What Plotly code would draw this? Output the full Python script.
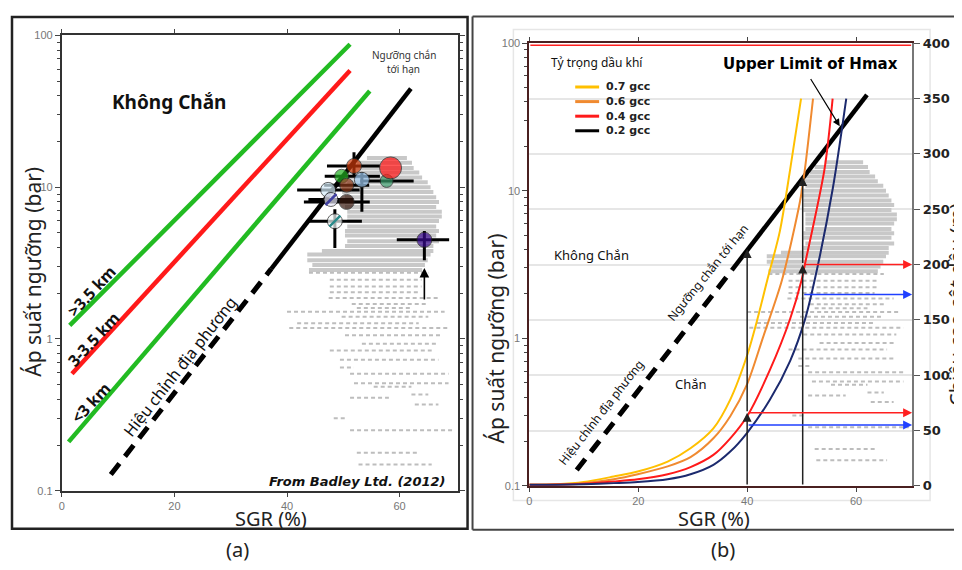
import numpy as np
import plotly.graph_objects as go

# page is 962x570; the browser body keeps its default 8px margin,
# so the figure itself is 946x554 and sits at (8, 8)
PAGE_W, PAGE_H, OFF = 962, 570, 8
W, H = PAGE_W - 2 * OFF, PAGE_H - 2 * OFF
def px(x): return (x - OFF) / W
def py(y): return 1 - (y - OFF) / H

# ---------------- data ----------------
sgr_ticks = [0, 20, 40, 60]
bar_ticks = [0.1, 1, 10, 100]
bar_tick_text = ["0.1", "1", "10", "100"]
bar_minor = [m * d for d in (0.1, 1, 10) for m in range(2, 10)]
h_ticks = [0, 50, 100, 150, 200, 250, 300, 350, 400]

# panel (a) depth trend lines (start, end)
g35_x = [1.4, 51.2];  g35_y = [1.23, 87.5]    # >3.5 km
r335_x = [1.8, 51.2]; r335_y = [0.59, 58.8]   # 3-3.5 km
g3_x = [1.2, 54.7];   g3_y = [0.21, 43.1]     # <3 km

# critical seal threshold (local calibration dashed, critical solid)
thr_dash_x = [8.7, 37.2];  thr_dash_y = [0.128, 2.9]
thr_solid_x = [37.2, 62.0]; thr_solid_y = [2.9, 44.6]

# panel (a) calibration points
pt_x = [51.9, 49.7, 50.6, 53.3, 57.7, 47.3, 47.8, 50.6, 48.5, 64.4, 58.4]
pt_y = [13.8, 11.8, 10.3, 11.2, 11.0, 9.6, 8.3, 8.0, 5.97, 4.5, 13.4]
pt_xm = [4.8, 3.0, 4.0, 0, 4.7, 5.5, 4.0, 7.6, 4.6, 4.9, 0]
pt_xp = [4.6, 6.8, 4.0, 0, 4.8, 5.6, 4.0, 4.1, 4.8, 4.4, 0]
pt_ym = [1.8, 0, 0, 4.3, 0, 0, 0, 0, 2.0, 1.2, 0]
pt_yp = [3.2, 0, 0, 1.3, 0, 0, 0, 0, 1.2, 0.65, 0]
pt_color = ["#cc3a0a", "#22b022", "#8b3a1a", "#9cc8f0", "#3a9a6a", "#d4ebf8",
            "#e6e6f6", "#3a1a10", "#f4fafa", "#3a0a90", "#ff1010"]
pt_size = [15, 14, 14, 15, 13, 15, 14, 15, 15, 15, 22]
stripe_x = [47.8, 48.5]; stripe_y = [8.3, 5.97]; stripe_c = ["#4040a0", "#2a8a8a"]

# arrow in (a)
arr_a_x = 64.4; arr_a_y0 = 1.78; arr_a_y1 = 2.94

# grey data cloud: dense rows
blob_bar = [15.6, 14.5, 13.4, 12.5, 11.6, 10.8, 10.0, 9.3, 8.6, 8.0, 7.4, 6.9,
            6.4, 6.0, 5.5, 5.15, 4.8, 4.4, 4.1, 3.8, 3.6, 3.3, 3.07, 2.85]
blob_x0 = [54.2, 52.4, 51.5, 50.7, 50.1, 50.7, 49.8, 49.8, 50.3, 50.3, 50.3, 50.7,
           50.7, 50.7, 50.7, 50.3, 50.3, 50.7, 50.3, 46.2, 43.6, 43.6, 44.5, 43.9]
blob_x1 = [61.3, 62.2, 62.5, 63.5, 64.0, 65.0, 65.5, 66.0, 66.5, 67.0, 66.5, 67.5,
           67.5, 67.0, 66.5, 67.0, 66.5, 67.0, 66.0, 66.0, 65.5, 65.0, 64.5, 64.0]
# sparse rows
sp_bar = [2.73, 2.46, 2.22, 2.03, 1.86, 1.70, 1.60, 1.51, 1.40, 1.27, 1.18, 1.06, 0.93,
          0.84, 0.73, 0.65, 0.59, 0.51, 0.485, 0.43, 0.41, 0.37, 0.30, 0.25, 0.178, 0.149]
sp_x0 = [43.9, 47.6, 47.6, 47.6, 47.4, 51.5, 52.4, 40.0, 49.7, 41.8, 40.4, 50.3, 53.3,
         47.6, 49.4, 49.4, 51.2, 51.9, 55.4, 62.1, 51.2, 62.7, 48.3, 51.2, 52.4, 52.7]
sp_x1 = [65.1, 63.9, 63.9, 63.4, 66.9, 65.1, 62.1, 68.0, 65.1, 63.4, 68.7, 67.4, 66.9,
         65.7, 66.9, 51.9, 68.7, 68.7, 62.1, 65.1, 58.1, 66.9, 50.6, 69.7, 63.5, 65.7]

# panel (b) oil-column height curves (m)
c07_x = [0, 5, 10, 15.5, 19.9, 25.4, 29.6, 33.8, 36.9, 40.0, 41.8, 43.7, 46.0, 47.9, 49.9]
c07_h = [1, 1.5, 3.5, 8.5, 13, 22, 34, 52, 78, 118, 149, 186, 230, 286, 350]
c06_x = [0, 5, 10, 15.5, 19.9, 25.4, 29.6, 33.8, 36.9, 40.0, 42.9, 46.4, 49.7, 50.6, 52.1]
c06_h = [1, 1.3, 2.5, 6, 10.5, 17.6, 26, 43, 63, 92, 134, 186, 257, 286, 350]
c04_x = [0, 5, 10, 15.5, 19.9, 25.4, 29.6, 33.8, 36.9, 40.0, 44.2, 47.9, 50.0, 50.6, 54.2, 55.7]
c04_h = [1, 1.2, 2, 4, 6, 10.5, 17, 28, 43, 63, 105, 151, 186, 200, 286, 350]
c02_x = [0, 5, 10, 15.5, 19.9, 25.4, 29.6, 33.8, 36.9, 40.0, 44.2, 47.9, 50.6, 52.4, 55.7, 58.2]
c02_h = [1, 1.1, 1.5, 2.5, 3.5, 6, 10.5, 19, 31, 48, 78, 113, 150, 186, 268, 350]
curve_x = [c07_x, c06_x, c04_x, c02_x]
curve_h = [c07_h, c06_h, c04_h, c02_h]
curve_colors = ["#ffc000", "#f08a30", "#ff1a1a", "#1c2a6e"]
legend_labels = ["0.7 gcc", "0.6 gcc", "0.4 gcc", "0.2 gcc"]
legend_colors = ["#ffc000", "#f08a30", "#ff1a1a", "#000000"]

# vertical reading lines in (b)
v_x = [40.0, 50.2]; v_mid = [66, 200]; v_top = [214, 279]
# horizontal arrows to right axis
h_y = [200, 173, 66, 55]; h_x0 = [50.2, 50.2, 40.0, 40.0]
h_col = ["#ff2020", "#2040ff", "#ff2020", "#2040ff"]
x_max = 70.3
hmax_tip = (57.0, 325); hmax_tail = (51.5, 369)

# ---------------- figure ----------------
fig = go.Figure()
CLOUD = "#c8c8c8"

def rows(x0s, x1s, ys):
    xs, yv = [], []
    for a, b, y in zip(x0s, x1s, ys):
        xs += [a, b, None]; yv += [y, y, None]
    return xs, yv

for xa, ya in (("x", "y"), ("x2", "y2")):
    bx, by = rows(blob_x0, blob_x1, blob_bar)
    fig.add_trace(go.Scatter(x=bx, y=by, mode="lines", xaxis=xa, yaxis=ya,
                             line=dict(color=CLOUD, width=4), hoverinfo="skip"))
    sx, sy = rows(sp_x0, sp_x1, sp_bar)
    fig.add_trace(go.Scatter(x=sx, y=sy, mode="lines", xaxis=xa, yaxis=ya,
                             line=dict(color="#bdbdbd", width=2, dash="4px,3px"), hoverinfo="skip"))

# panel a trend lines
for lx, ly, c in ((g35_x, g35_y, "#22bb22"), (r335_x, r335_y, "#ff1a1a"), (g3_x, g3_y, "#22bb22")):
    fig.add_trace(go.Scatter(x=lx, y=ly, mode="lines", xaxis="x", yaxis="y",
                             line=dict(color=c, width=4.5), hoverinfo="skip"))

# threshold line both panels
for xa, ya in (("x", "y"), ("x2", "y2")):
    fig.add_trace(go.Scatter(x=thr_dash_x, y=thr_dash_y, mode="lines", xaxis=xa, yaxis=ya,
                             line=dict(color="black", width=5, dash="14px,9px"), hoverinfo="skip"))
    fig.add_trace(go.Scatter(x=thr_solid_x, y=thr_solid_y, mode="lines", xaxis=xa, yaxis=ya,
                             line=dict(color="black", width=4.5), hoverinfo="skip"))

# calibration points
fig.add_trace(go.Scatter(
    x=pt_x, y=pt_y, mode="markers", xaxis="x", yaxis="y",
    marker=dict(color=pt_color, size=pt_size, line=dict(color="#222", width=1)),
    error_x=dict(type="data", symmetric=False, array=pt_xp, arrayminus=pt_xm,
                 color="black", thickness=3, width=0),
    error_y=dict(type="data", symmetric=False, array=pt_yp, arrayminus=pt_ym,
                 color="black", thickness=3, width=0),
    hoverinfo="skip"))
fig.add_trace(go.Scatter(x=stripe_x, y=stripe_y, mode="markers", xaxis="x", yaxis="y",
                         marker=dict(symbol="line-ne", size=11, color=stripe_c,
                                     line=dict(color=stripe_c, width=2.5)),
                         hoverinfo="skip"))

# panel b curves (right axis, metres)
for cx, ch, cc in zip(curve_x, curve_h, curve_colors):
    fig.add_trace(go.Scatter(x=cx, y=ch, mode="lines", xaxis="x2", yaxis="y3",
                             line=dict(color=cc, width=2, shape="spline", smoothing=0.8),
                             hoverinfo="skip"))

ann = []
def txt(x, y, s, size, family="Noto Sans", color="#111", rot=0, xanchor="center", **kw):
    d = dict(x=px(x), y=py(y), xref="paper", yref="paper", text=s, showarrow=False,
             textangle=rot, xanchor=xanchor, yanchor="middle",
             font=dict(size=size, family=family, color=color))
    d.update(kw)
    ann.append(d)

# panel a texts
txt(167, 97, "<b>Không Chắn</b>", 19)
txt(402, 49, "Ngưỡng chắn", 10, color="#333")
txt(402, 63, "tới hạn", 10, color="#333")
txt(89, 292, "<b>>3.5 km</b>", 16, rot=-47)
txt(91, 341, "<b>3-3.5 km</b>", 16, rot=-47)
txt(88, 407, "<b><3 km</b>", 16, rot=-47)
txt(178, 369, "Hiệu chỉnh địa phương", 16, rot=-52)
txt(355, 487, "<b><i>From Badley Ltd. (2012)</i></b>", 13, family="DejaVu Sans")
txt(30, 272, "Áp suất ngưỡng (bar)", 21, color="#222", rot=-90)
txt(269, 525, "SGR (%)", 20, color="#222")
txt(235, 557, "(a)", 20, color="#222")

# panel b texts
txt(596, 57, "Tỷ trọng dầu khí", 12)
for i, (lab, col) in enumerate(zip(legend_labels, legend_colors)):
    txt(603, 82 + 15 * i, "<b>" + lab + "</b>", 11, family="DejaVu Sans", color="#222", xanchor="left")
txt(810, 58, "<b>Upper Limit of Hmax</b>", 15, family="DejaVu Sans", color="#000")
txt(590, 255, "Không Chắn", 13)
txt(690, 387, "Chắn", 13)
txt(707, 273, "Ngưỡng chắn tới hạn", 12, rot=-51)
txt(600, 417, "Hiệu chỉnh địa phương", 12, rot=-52)
txt(495, 340, "Áp suất ngưỡng (bar)", 21, color="#222", rot=-90)
txt(957, 305, "Chiều cao cột dầu (m)", 20, color="#222", rot=-90)
txt(713, 525, "SGR (%)", 20, color="#222")
txt(722, 557, "(b)", 20, color="#222")

# arrows
def arrow(xr, yr, x, y, ax, ay, color="black", w=1.3, head=2):
    ann.append(dict(x=x, y=y, ax=ax, ay=ay, xref=xr, yref=yr, axref=xr, ayref=yr,
                    text="", showarrow=True, arrowhead=head, arrowsize=1.2,
                    arrowwidth=w, arrowcolor=color))

arrow("x", "y", arr_a_x, np.log10(arr_a_y1), arr_a_x, np.log10(arr_a_y0), w=1.6)
arrow("x2", "y3", hmax_tip[0], hmax_tip[1], hmax_tail[0], hmax_tail[1], w=1.2)
for vx, vm, vt in zip(v_x, v_mid, v_top):
    arrow("x2", "y3", vx, vm, vx, 0, color="#222", w=1.5)
    arrow("x2", "y3", vx, vt, vx, vm, color="#222", w=1.5)
for hy, hx, hc in zip(h_y, h_x0, h_col):
    arrow("x2", "y3", x_max, hy, hx, hy, color=hc, w=1.5)

shapes = [
    dict(type="rect", xref="paper", yref="paper", x0=px(512), x1=px(930), y0=py(507), y1=py(23),
         line=dict(color="#e6e6e6", width=1.5), layer="below"),
    dict(type="rect", xref="paper", yref="paper", x0=px(9), x1=px(466), y0=py(536), y1=py(10),
         line=dict(color="#222", width=2.5)),
    dict(type="line", xref="paper", yref="paper", x0=px(471), x1=1, y0=py(9.5), y1=py(9.5),
         line=dict(color="#444", width=2)),
    dict(type="line", xref="paper", yref="paper", x0=px(471), x1=1, y0=py(537), y1=py(537),
         line=dict(color="#444", width=2)),
    dict(type="line", xref="paper", yref="paper", x0=px(471), x1=px(471), y0=py(537), y1=py(9.5),
         line=dict(color="#444", width=2)),
    dict(type="line", xref="paper", yref="paper", x0=px(529), x1=px(911), y0=py(39), y1=py(39),
         line=dict(color="#ff2020", width=1.5)),
]
for i, col in enumerate(legend_colors):
    shapes.append(dict(type="line", xref="paper", yref="paper", x0=px(574), x1=px(598),
                       y0=py(82 + 15 * i), y1=py(82 + 15 * i), line=dict(color=col, width=3)))

tickfont = dict(size=11, family="Liberation Sans", color="#777")
def xax(dom, anchor, lc):
    return dict(domain=dom, anchor=anchor, range=[0, x_max], tickvals=sgr_ticks,
                ticks="outside", ticklen=4, tickcolor="#444", linecolor=lc, linewidth=2,
                mirror="allticks", showgrid=False, zeroline=False, tickfont=tickfont)
def yax(dom, anchor, lc, mirror):
    return dict(domain=dom, anchor=anchor, type="log", range=[-1, 2], tickvals=bar_ticks,
                ticktext=bar_tick_text, ticks="outside", ticklen=5, tickcolor="#444",
                linecolor=lc, linewidth=2, mirror=mirror, showgrid=False, zeroline=False,
                tickfont=tickfont,
                minor=dict(tickvals=bar_minor, ticks="outside", ticklen=3, tickcolor="#444"))

fig.update_layout(
    width=W, height=H, margin=dict(l=0, r=0, t=0, b=0),
    paper_bgcolor="white", plot_bgcolor="white", showlegend=False,
    xaxis=xax([px(59), px(456)], "y", "#333"),
    yaxis=yax([py(497), py(29)], "x", "#333", "allticks"),
    xaxis2=xax([px(528), px(912)], "y2", "#4a2020"),
    yaxis2=yax([py(492), py(37)], "x2", "#4a2020", False),
    yaxis3=dict(overlaying="y2", anchor="x2", side="right", range=[0, 400], tickvals=h_ticks,
                ticks="outside", ticklen=6, tickcolor="#555", linecolor="#777", linewidth=2,
                showline=True, showgrid=True, gridcolor="#e6e6e6", gridwidth=1.5, zeroline=False,
                tickfont=dict(size=13, family="DejaVu Sans", color="#222", weight="bold")),
    annotations=ann, shapes=shapes,
)
fig.write_html("out.html", config={"displayModeBar": False})
